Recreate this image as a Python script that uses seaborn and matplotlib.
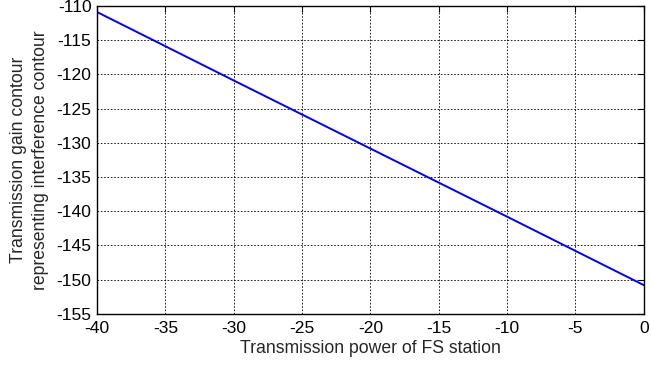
import numpy as np
import pandas as pd
import seaborn as sns
import matplotlib.pyplot as plt

tx_power = [-40, -30, -20, -10, 0]
gain_contour = [-110.9, -120.9, -130.85, -140.8, -150.8]
x_ticks = [-40, -35, -30, -25, -20, -15, -10, -5, 0]
y_ticks = [-155, -150, -145, -140, -135, -130, -125, -120, -115, -110]

df = pd.DataFrame({'power': tx_power, 'gain': gain_contour})

sns.set_style('white')
plt.rcParams['font.family'] = ['Liberation Sans', 'DejaVu Sans']
plt.rcParams['axes.unicode_minus'] = False

fig = plt.figure(figsize=(6.51, 3.65), dpi=100)
ax = fig.add_axes([0.149, 0.140, 0.840, 0.844])
sns.lineplot(data=df, x='power', y='gain', color='#0000ff', linewidth=1.4, ax=ax)

ax.set_xlim(-40, 0)
ax.set_ylim(-155, -110)
ax.set_xticks(x_ticks)
ax.set_yticks(y_ticks)
ax.grid(True, color='black', linestyle=(0, (2, 2)), linewidth=0.6)
ax.tick_params(direction='in', top=True, right=True, length=4, width=0.8,
               labelsize=12.6, colors='black')
ax.tick_params(axis='x', pad=5)
ax.tick_params(axis='y', pad=4)
for s in ax.spines.values():
    s.set_color('black')
    s.set_linewidth(1.0)
ax.set_xlabel('Transmission power of FS station', fontsize=12.7, labelpad=3)
ax.set_ylabel('Transmission gain contour\nrepresenting interference contour',
              fontsize=12.7, labelpad=5, linespacing=1.4)

fig.savefig('out.png', dpi=100)
